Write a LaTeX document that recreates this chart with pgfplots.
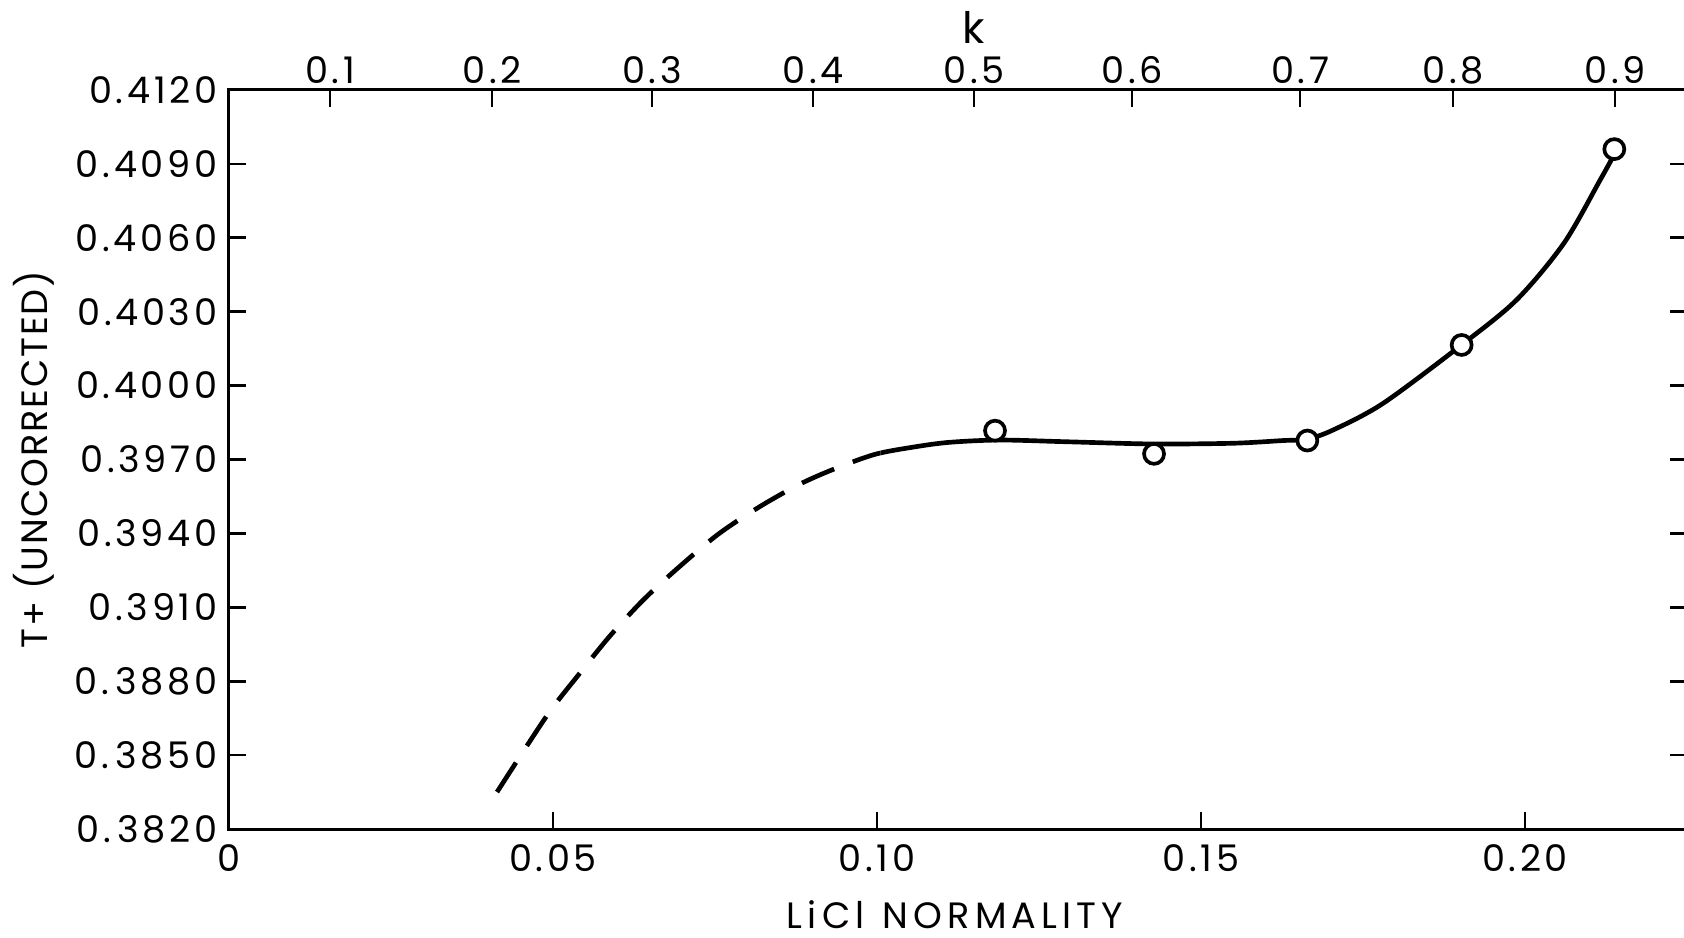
\documentclass[border=0pt]{standalone}
\usepackage{pgfplots}
\pgfplotsset{compat=1.18}
\usepackage{pgfplotstable}
\usepackage{fontspec}
\setmainfont{Poppins}
\newcommand\tlfont{\fontsize{11}{12}\selectfont\addfontfeature{LetterSpace=10}}
\pgfplotstableread{
x y
0.04136 0.38350
0.04903 0.38659
0.05391 0.38825
0.05880 0.38984
0.06394 0.39130
0.06934 0.39261
0.07551 0.39397
0.08168 0.39505
0.08786 0.39597
0.09326 0.39660
0.09969 0.39721
0.1060 0.39752
0.1113 0.39770
0.1190 0.39779
0.1293 0.39772
0.1426 0.39763
0.1550 0.39766
0.1627 0.39777
0.1663 0.39782
0.1704 0.39820
0.1781 0.39928
0.1902 0.40165
0.1987 0.40348
0.2060 0.40578
0.2116 0.40835
0.2136 0.40930
}\curve
\pgfplotstableread{
x y
0.11821 0.39817
0.14275 0.39723
0.16641 0.39777
0.19022 0.40165
0.21378 0.40960
}\points
\begin{document}
\begin{tikzpicture}
\useasboundingbox (-68.7pt,-32.4pt) rectangle (436.5pt,248.7pt);
\begin{axis}[
  scale only axis, width=437.4pt, height=221.7pt,
  xmin=0, xmax=0.225, ymin=0.382, ymax=0.412,
  axis line style={line width=0.9pt},
  every tick/.style={black, line width=0.8pt},
  major tick length=5pt,
  tick align=inside,
  xtick={0,0.05,0.10,0.15,0.20},
  xticklabels={0,0.05,0.10,0.15,0.20},
  xtick pos=bottom,
  ytick={0.382,0.385,0.388,0.391,0.394,0.397,0.400,0.403,0.406,0.409,0.412},
  yticklabels={0.\,3820,0.\,3850,0.\,3880,0.3910,0.3940,0.3970,0.4000,0.4030,0.4060,0.4090,0.4120},
  ytick pos=both, yticklabel pos=left,
  tick label style={font=\tlfont},
  xticklabel style={yshift=-1pt},
  /pgf/number format/assume math mode=true,
  xlabel={\addfontfeature{LetterSpace=14}LiCl\enspace NORMALITY},
  ylabel={\addfontfeature{LetterSpace=5}T+ (UNCORRECTED)},
  label style={font=\fontsize{11}{12}\selectfont},
  xlabel style={at={(axis description cs:0.498,-0.116)}, anchor=center},
  ylabel style={at={(axis description cs:-0.134,0.5)}, anchor=center, rotate=0},
  clip=false,
]
\begin{scope}
\clip (axis cs:0,0.382) rectangle (axis cs:0.1005,0.412);
\addplot[black, line width=1.4pt, dash pattern=on 10.5pt off 6pt, smooth] table[x=x,y=y] {\curve};
\end{scope}
\begin{scope}
\clip (axis cs:0.1005,0.382) rectangle (axis cs:0.225,0.412);
\addplot[black, line width=1.4pt, smooth] table[x=x,y=y] {\curve};
\end{scope}
\addplot[only marks, mark=*, mark size=3pt, mark options={fill=white, draw=black, line width=1.1pt}] table[x=x,y=y] {\points};
\end{axis}
\begin{axis}[
  scale only axis, width=437.4pt, height=221.7pt,
  xmin=0, xmax=0.225, ymin=0, ymax=1,
  axis x line=top, axis y line=none,
  x axis line style={-, line width=0.9pt},
  every tick/.style={black, line width=0.8pt},
  major tick length=5pt,
  tick align=inside,
  xtick={0.01559,0.04059,0.06528,0.09012,0.11497,0.13935,0.16528,0.18889,0.21389},
  xticklabels={0.1,0.2,0.3,0.4,0.5,0.6,0.7,0.8,0.9},
  tick label style={font=\tlfont},
  xticklabel style={yshift=-1.8pt},
  /pgf/number format/assume math mode=true,
  xlabel={k},
  label style={font=\fontsize{13}{14}\selectfont},
  xlabel style={at={(axis description cs:0.511,1.084)}, anchor=center},
]
\end{axis}
\end{tikzpicture}
\end{document}
